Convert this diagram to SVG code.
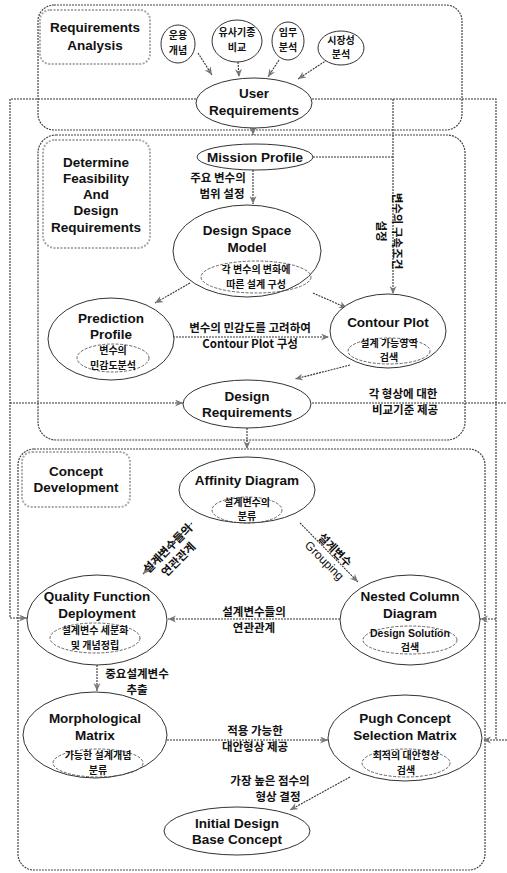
<svg xmlns="http://www.w3.org/2000/svg" width="507" height="873" viewBox="0 0 507 873">
<defs>
<style>
.t{font-family:"Liberation Sans",Arial,sans-serif;font-weight:bold;font-size:13.5px;text-anchor:middle;fill:#111}
.k{font-family:"Noto Sans CJK KR","Noto Sans",sans-serif;font-weight:bold;font-size:11.5px;text-anchor:middle;fill:#111}
.ks{font-family:"Noto Sans CJK KR","Noto Sans",sans-serif;font-weight:bold;font-size:10px;text-anchor:middle;fill:#111}
.g{font-family:"Liberation Sans",Arial,sans-serif;font-size:12px;text-anchor:middle;fill:#111}
.box{fill:none;stroke:#444;stroke-width:1.2;stroke-dasharray:2 1}
.lbl{fill:#fff;stroke:#aaa;stroke-width:2;stroke-dasharray:2 1.5}
.el{fill:#fff;stroke:#333;stroke-width:1}
.in{fill:none;stroke:#555;stroke-width:0.9;stroke-dasharray:3 1.5}
.ln{fill:none;stroke:#333;stroke-width:1.1;stroke-dasharray:2 1}
.ar{fill:none;stroke:#333;stroke-width:1.1;stroke-dasharray:2 1;marker-end:url(#ah)}
</style>
<marker id="ah" markerWidth="9" markerHeight="8" refX="8" refY="3.5" orient="auto" markerUnits="userSpaceOnUse">
<path d="M0,0 L8,3.5 L0,7 L2.5,3.5 z" fill="#777"/>
</marker>
</defs>
<rect width="507" height="873" fill="#fff"/>

<g id="frames">
<rect class="box" x="38" y="5" width="424" height="125" rx="16"/>
<rect class="box" x="38" y="135" width="427" height="305" rx="18"/>
<rect class="box" x="18" y="449" width="467" height="421" rx="16"/>
</g>

<g id="connectors">
<path class="ln" d="M196,99 H10 V618"/>
<path class="ar" d="M10,618 H27"/>
<path class="ar" d="M10,403 H183"/>
<path class="ln" d="M312,99 H496 V740"/>
<path class="ar" d="M496,619 H480"/>
<path class="ar" d="M507,740 H483"/>
<path class="ln" d="M312,403 H507"/>
<path class="ln" d="M313,157 H393"/>
<path class="ar" d="M393,99 V294"/>
<path class="ar" d="M253,128 V135"/>
<path class="ar" d="M198,53 L212,75"/>
<path class="ar" d="M238,62 L239,77"/>
<path class="ar" d="M279,60 L268,77"/>
<path class="ar" d="M327,60 L298,79"/>
<path class="ar" d="M253,170 V204"/>
<path class="ar" d="M190,283 L155,303"/>
<path class="ar" d="M313,293 L347,308"/>
<path class="ar" d="M173,337 H329"/>
<path class="ar" d="M350,365 L295,379"/>
<path class="ar" d="M247,428 V449"/>
<path class="ar" d="M192,523 L143,574"/>
<path class="ar" d="M300,523 L358,582"/>
<path class="ar" d="M340,619 H168"/>
<path class="ar" d="M97,665 V691"/>
<path class="ar" d="M167,740 H328"/>
<path class="ar" d="M350,777 L290,810"/>
</g>

<g id="ra-label">
<rect class="lbl" x="40" y="10" width="110" height="54" rx="10"/>
<text class="t" x="95" y="32">Requirements</text>
<text class="t" x="95" y="50">Analysis</text>
</g>

<g id="n-unyong">
<ellipse class="el" cx="178" cy="44" rx="17" ry="19"/>
<text class="ks" x="178" y="39">운용</text>
<text class="ks" x="178" y="54">개념</text>
</g>
<g id="n-yusa">
<ellipse class="el" cx="237" cy="41" rx="25" ry="21"/>
<text class="ks" x="237" y="36">유사기종</text>
<text class="ks" x="237" y="51">비교</text>
</g>
<g id="n-immu">
<ellipse class="el" cx="288" cy="41" rx="16" ry="19"/>
<text class="ks" x="288" y="36">임무</text>
<text class="ks" x="288" y="51">분석</text>
</g>
<g id="n-sijang">
<ellipse class="el" cx="341" cy="48" rx="23" ry="17"/>
<text class="ks" x="341" y="44">시장성</text>
<text class="ks" x="341" y="58">분석</text>
</g>

<g id="n-user">
<ellipse class="el" cx="254" cy="103" rx="58" ry="25"/>
<text class="t" x="254" y="98">User</text>
<text class="t" x="254" y="115">Requirements</text>
</g>

<g id="df-label">
<rect class="lbl" x="43" y="140" width="107" height="108" rx="12"/>
<text class="t" x="96" y="167">Determine</text>
<text class="t" x="96" y="183">Feasibility</text>
<text class="t" x="96" y="199">And</text>
<text class="t" x="96" y="215">Design</text>
<text class="t" x="96" y="232">Requirements</text>
</g>

<g id="n-mission">
<ellipse class="el" cx="255" cy="157" rx="58" ry="13"/>
<text class="t" x="255" y="162">Mission Profile</text>
</g>
<g id="lbl-range">
<text class="k" x="218" y="182">주요 변수의</text>
<text class="k" x="222" y="198">범위 설정</text>
</g>
<g id="lbl-constraint" transform="translate(390,231) rotate(90)">
<text class="k" x="0" y="-3">변수의 구속조건</text>
<text class="k" x="0" y="13">설정</text>
</g>

<g id="n-dsm">
<ellipse class="el" cx="247" cy="251" rx="74" ry="46"/>
<text class="t" x="247" y="235">Design Space</text>
<text class="t" x="247" y="252">Model</text>
<ellipse class="in" cx="256" cy="277" rx="55" ry="16"/>
<text class="ks" x="256" y="273">각 변수의 변화에</text>
<text class="ks" x="256" y="288">따른 설계 구성</text>
</g>

<g id="n-pred">
<ellipse class="el" cx="111" cy="339" rx="63" ry="41"/>
<text class="t" x="111" y="323">Prediction</text>
<text class="t" x="111" y="339">Profile</text>
<ellipse class="in" cx="113" cy="358" rx="36" ry="14"/>
<text class="ks" x="113" y="354">변수의</text>
<text class="ks" x="113" y="369">민감도분석</text>
</g>

<g id="n-contour">
<ellipse class="el" cx="388" cy="331" rx="58" ry="37"/>
<text class="t" x="388" y="327">Contour Plot</text>
<ellipse class="in" cx="389" cy="351" rx="41" ry="13"/>
<text class="ks" x="389" y="347">설계 가능영역</text>
<text class="ks" x="389" y="361">검색</text>
</g>
<g id="lbl-sens">
<text class="k" x="250" y="332">변수의 민감도를 고려하여</text>
<text class="k" x="250" y="348">Contour Plot 구성</text>
</g>

<g id="n-dr">
<ellipse class="el" cx="247" cy="404" rx="64" ry="24"/>
<text class="t" x="247" y="401">Design</text>
<text class="t" x="247" y="417">Requirements</text>
</g>
<g id="lbl-compare">
<text class="k" x="403" y="398">각 형상에 대한</text>
<text class="k" x="405" y="414">비교기준 제공</text>
</g>

<g id="cd-label">
<rect class="lbl" x="22" y="452" width="108" height="55" rx="10"/>
<text class="t" x="76" y="476">Concept</text>
<text class="t" x="76" y="492">Development</text>
</g>

<g id="n-affinity">
<ellipse class="el" cx="247" cy="490" rx="68" ry="33"/>
<text class="t" x="247" y="485">Affinity Diagram</text>
<ellipse class="in" cx="247" cy="510" rx="35" ry="13"/>
<text class="ks" x="247" y="506">설계변수의</text>
<text class="ks" x="247" y="520">분류</text>
</g>
<g id="lbl-rel1" transform="translate(172,553) rotate(-45)">
<text class="k" x="0" y="-2">설계변수들의</text>
<text class="k" x="0" y="13">연관관계</text>
</g>
<g id="lbl-group" transform="translate(330,555) rotate(45)">
<text class="k" x="0" y="-3">설계변수</text>
<text class="g" x="0" y="12">Grouping</text>
</g>

<g id="n-qfd">
<ellipse class="el" cx="97" cy="620" rx="70" ry="45"/>
<text class="t" x="97" y="601">Quality Function</text>
<text class="t" x="97" y="618">Deployment</text>
<ellipse class="in" cx="95" cy="638" rx="45" ry="15"/>
<text class="ks" x="95" y="634">설계변수 세분화</text>
<text class="ks" x="95" y="649">및 개념정립</text>
</g>

<g id="n-ncd">
<ellipse class="el" cx="410" cy="620" rx="70" ry="45"/>
<text class="t" x="410" y="601">Nested Column</text>
<text class="t" x="410" y="618">Diagram</text>
<ellipse class="in" cx="410" cy="640" rx="47" ry="14"/>
<text class="g" x="410" y="637" style="font-weight:bold;font-size:10.5px">Design Solution</text>
<text class="ks" x="410" y="651">검색</text>
</g>
<g id="lbl-rel2">
<text class="k" x="254" y="616">설계변수들의</text>
<text class="k" x="254" y="632">연관관계</text>
</g>
<g id="lbl-extract">
<text class="k" x="137" y="678">중요설계변수</text>
<text class="k" x="137" y="694">추출</text>
</g>

<g id="n-morph">
<ellipse class="el" cx="95" cy="735" rx="72" ry="43"/>
<text class="t" x="95" y="723">Morphological</text>
<text class="t" x="95" y="740">Matrix</text>
<ellipse class="in" cx="98" cy="763" rx="45" ry="14"/>
<text class="ks" x="98" y="759">가능한 설계개념</text>
<text class="ks" x="98" y="774">분류</text>
</g>

<g id="n-pugh">
<ellipse class="el" cx="405" cy="738" rx="77" ry="43"/>
<text class="t" x="405" y="723">Pugh Concept</text>
<text class="t" x="405" y="740">Selection Matrix</text>
<ellipse class="in" cx="406" cy="763" rx="44" ry="14"/>
<text class="ks" x="406" y="759">최적의 대안형상</text>
<text class="ks" x="406" y="774">검색</text>
</g>
<g id="lbl-alt">
<text class="k" x="255" y="735">적용 가능한</text>
<text class="k" x="255" y="751">대안형상 제공</text>
</g>
<g id="lbl-best">
<text class="k" x="270" y="785">가장 높은 점수의</text>
<text class="k" x="278" y="801">형상 결정</text>
</g>

<g id="n-initial">
<ellipse class="el" cx="237" cy="831" rx="73" ry="24"/>
<text class="t" x="237" y="828">Initial Design</text>
<text class="t" x="237" y="844">Base Concept</text>
</g>
</svg>
